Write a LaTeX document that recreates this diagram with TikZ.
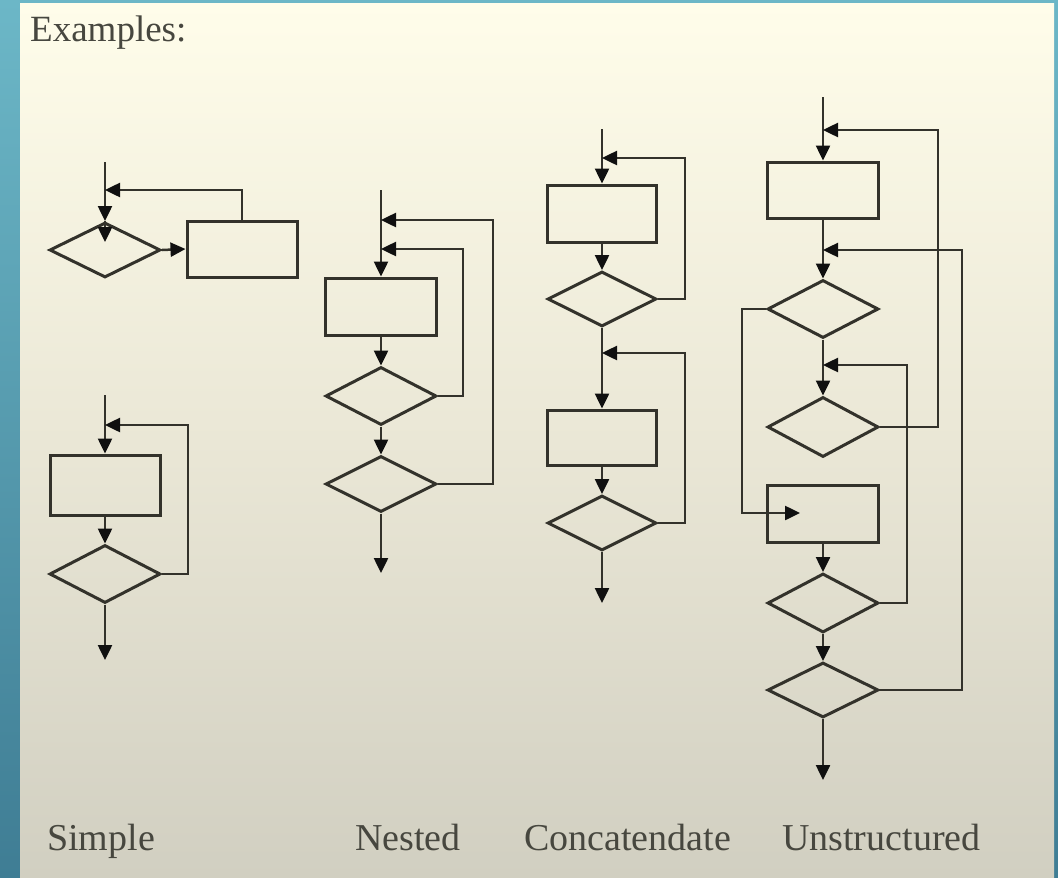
\documentclass[tikz,border=0pt]{standalone}
\usepackage{fontspec}
\setmainfont{Liberation Serif}
\usetikzlibrary{shapes.geometric,arrows.meta}

\definecolor{stripTop}{HTML}{6CB7C7}
\definecolor{stripBot}{HTML}{3F7D94}
\definecolor{paperTop}{HTML}{FFFDEA}
\definecolor{paperMid}{HTML}{EAE7D6}
\definecolor{paperBot}{HTML}{D1CFC1}
\definecolor{ink}{HTML}{33322B}
\definecolor{tipink}{HTML}{101010}
\definecolor{textgray}{HTML}{47473F}

\tikzset{
  box/.style={draw=ink, line width=3pt, rectangle, inner sep=0pt,
              minimum width=110pt, minimum height=56pt},
  decision/.style={draw=ink, line width=3pt, diamond, aspect=2, inner sep=0pt,
              minimum width=111pt, minimum height=57pt},
  arr/.style={draw=ink, line width=2.5pt,
              -{Triangle[length=15pt,width=14pt,color=tipink]}},
  caption/.style={font=\fontsize{38pt}{40pt}\selectfont, text=textgray,
              anchor=base west, inner sep=0pt},
}

\begin{document}
\begin{tikzpicture}[x=1pt,y=-1pt]
  \useasboundingbox (0,0) rectangle (1058,878);

  % backdrop: teal frame and shaded paper
  \shade[top color=stripTop, bottom color=stripBot] (0,0) rectangle (1058,878);
  \shade[top color=paperTop, bottom color=paperBot, middle color=paperMid]
        (20,3) rectangle (1054,878);

  % heading
  \node[font=\fontsize{37pt}{39pt}\selectfont, text=textgray, anchor=base west,
        inner sep=0pt] (title) at (30,41) {Examples:};

  % ---------------- Simple (upper) ----------------
  \coordinate (s1top) at (105,162);
  \coordinate (s1j)   at (105,190);
  \node[decision, minimum height=55pt] (s1d) at (105,250) {};
  \node[box] (s1r) at (242,249) {};
  \draw[arr] (s1top) -- (s1d.north);
  \draw[arr] (s1d.north) -- ++(0,21);
  \draw[arr] (s1d.east) -- (s1r.west);
  \draw[arr] (s1r.north) |- (s1j);

  % ---------------- Simple (lower) ----------------
  \coordinate (s2top) at (105,395);
  \coordinate (s2j)   at (105,425);
  \coordinate (s2k)   at (188,425);
  \coordinate (s2end) at (105,660);
  \node[box, minimum height=60pt] (s2r) at (105,485) {};
  \node[decision, minimum height=58pt] (s2d) at (105,574) {};
  \draw[arr] (s2top) -- (s2r.north);
  \draw[arr] (s2r.south) -- (s2d.north);
  \draw[arr] (s2d.south) -- (s2end);
  \draw[arr] (s2d.east) -| (s2k) -- (s2j);

  % ---------------- Nested ----------------
  \coordinate (ntop) at (381,190);
  \coordinate (nj1)  at (381,220);
  \coordinate (nj2)  at (381,249);
  \coordinate (nk1)  at (493,220);
  \coordinate (nk2)  at (463,249);
  \coordinate (nend) at (381,573);
  \node[box, minimum width=111pt, minimum height=57pt] (nr) at (381,306.5) {};
  \node[decision, minimum height=58pt] (nd1) at (381,396) {};
  \node[decision, minimum height=56pt] (nd2) at (381,484) {};
  \draw[arr] (ntop) -- (nr.north);
  \draw[arr] (nr.south) -- (nd1.north);
  \draw[arr] (nd1.south) -- (nd2.north);
  \draw[arr] (nd2.south) -- (nend);
  \draw[arr] (nd1.east) -| (nk2) -- (nj2);
  \draw[arr] (nd2.east) -| (nk1) -- (nj1);

  % ---------------- Concatendate ----------------
  \coordinate (ctop) at (602,129);
  \coordinate (cj1)  at (602,158);
  \coordinate (ck1)  at (685,158);
  \coordinate (cj2)  at (602,353);
  \coordinate (ck2)  at (685,353);
  \coordinate (cend) at (602,603);
  \node[box, minimum width=109pt, minimum height=57pt] (cr1) at (602,213.5) {};
  \node[decision, minimum width=109pt, minimum height=55pt] (cd1) at (602,299) {};
  \node[box, minimum width=109pt, minimum height=55pt] (cr2) at (602,437.5) {};
  \node[decision, minimum width=109pt, minimum height=55pt] (cd2) at (602,523) {};
  \draw[arr] (ctop) -- (cr1.north);
  \draw[arr] (cr1.south) -- (cd1.north);
  \draw[arr] (cd1.south) -- (cr2.north);
  \draw[arr] (cr2.south) -- (cd2.north);
  \draw[arr] (cd2.south) -- (cend);
  \draw[arr] (cd1.east) -| (ck1) -- (cj1);
  \draw[arr] (cd2.east) -| (ck2) -- (cj2);

  % ---------------- Unstructured ----------------
  \coordinate (utop) at (823,97);
  \coordinate (uj1)  at (823,130);
  \coordinate (uk1)  at (938,130);
  \coordinate (uj2)  at (823,250);
  \coordinate (uk2)  at (962,250);
  \coordinate (uj3)  at (823,365);
  \coordinate (uk3)  at (907,365);
  \coordinate (ub)   at (742,513);
  \coordinate (uin)  at (800,513);
  \coordinate (uend) at (823,780);
  \node[box, minimum width=111pt, minimum height=56pt] (ur1) at (823,190) {};
  \node[decision, minimum height=58pt] (ud1) at (823,309) {};
  \node[decision, minimum height=60pt] (ud2) at (823,427) {};
  \node[box, minimum width=111pt, minimum height=57pt] (ur2) at (823,513.5) {};
  \node[decision, minimum height=59pt] (ud3) at (823,603) {};
  \node[decision, minimum height=55pt] (ud4) at (823,690) {};
  \draw[arr] (utop) -- (ur1.north);
  \draw[arr] (ur1.south) -- (ud1.north);
  \draw[arr] (ud1.south) -- (ud2.north);
  \draw[arr] (ur2.south) -- (ud3.north);
  \draw[arr] (ud3.south) -- (ud4.north);
  \draw[arr] (ud4.south) -- (uend);
  \draw[arr] (ud2.east) -| (uk1) -- (uj1);
  \draw[arr] (ud4.east) -| (uk2) -- (uj2);
  \draw[arr] (ud3.east) -| (uk3) -- (uj3);
  \draw[arr] (ud1.west) -| (ub) -- (uin);

  % captions
  \node[caption] (capS) at (47,850)  {Simple};
  \node[caption] (capN) at (355,850) {Nested};
  \node[caption] (capC) at (524,850) {Concatendate};
  \node[caption] (capU) at (782,850) {Unstructured};
\end{tikzpicture}
\end{document}
